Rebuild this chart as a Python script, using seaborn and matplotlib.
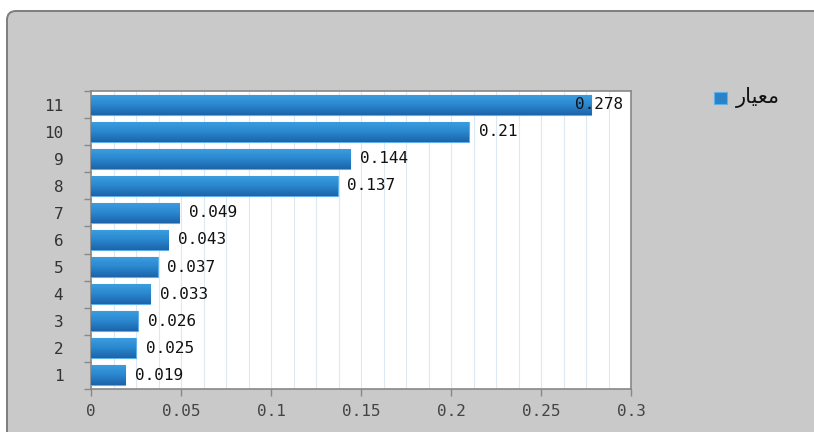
import numpy as np
import pandas as pd
import matplotlib
matplotlib.use("Agg")
import matplotlib.pyplot as plt
import seaborn as sns
from matplotlib.patches import FancyBboxPatch
from matplotlib.transforms import IdentityTransform
from matplotlib.ticker import MultipleLocator, FixedLocator

categories = ["11", "10", "9", "8", "7", "6", "5", "4", "3", "2", "1"]
values = [0.278, 0.21, 0.144, 0.137, 0.049, 0.043, 0.037, 0.033, 0.026, 0.025, 0.019]
value_labels = ["0.278", "0.21", "0.144", "0.137", "0.049", "0.043", "0.037", "0.033", "0.026", "0.025", "0.019"]
x_ticks = [0, 0.05, 0.1, 0.15, 0.2, 0.25, 0.3]
x_tick_labels = ["0", "0.05", "0.1", "0.15", "0.2", "0.25", "0.3"]
series_name = "معیار"
# visual (shaped, right-to-left) form of the series name for rendering
series_display = "\uFEAD\uFE8E\uFBFF\uFECC\uFEE3"

sns.set_theme(style="white")
plt.rcParams["font.family"] = ["DejaVu Sans Mono", "DejaVu Sans"]

W, H = 814, 432
fig = plt.figure(figsize=(W / 100, H / 100), dpi=100)
fig.patch.set_facecolor("white")

# background panel (rounded, in pixel coordinates)
bg = FancyBboxPatch((7, -30), W + 40, (H - 11) + 30,
                    boxstyle="round,pad=0,rounding_size=9",
                    transform=IdentityTransform(), facecolor="#c9c9c9",
                    edgecolor="#7d7d7d", linewidth=1.4, zorder=-10)
fig.patches.append(bg)

ax = fig.add_axes([91 / W, 1 - 389 / H, (631 - 91) / W, (389 - 91) / H])
ax.set_facecolor("white")

df = pd.DataFrame({"category": categories, "value": values})
sns.barplot(data=df, x="value", y="category", order=categories, orient="h",
            color="#2a82c9", width=0.74, ax=ax, zorder=3, edgecolor="#5fb0e8",
            linewidth=0.8)

# vertical gradient on each bar
grad = np.linspace(0, 1, 64).reshape(-1, 1)
cmap = matplotlib.colors.LinearSegmentedColormap.from_list(
    "bar", ["#3d9fe0", "#2a88cf", "#1c64aa"])
for p in list(ax.patches):
    x0, y0 = p.get_x(), p.get_y()
    w, h = p.get_width(), p.get_height()
    im = ax.imshow(grad, extent=[x0, x0 + w, y0 + h, y0], aspect="auto",
                   cmap=cmap, zorder=3.5, origin="upper")
    im.set_clip_path(p)

ax.set_xlim(0, 0.3)
ax.set_ylim(len(categories) - 0.5, -0.5)

# value labels
for i, (v, lab) in enumerate(zip(values, value_labels)):
    if v + 0.04 > 0.3:
        ax.text(0.2955, i, lab, ha="right", va="center", fontsize=11.5,
                color="#111111", zorder=5)
    else:
        ax.text(v + 0.0055, i, lab, ha="left", va="center", fontsize=11.5,
                color="#111111", zorder=5)

# grid
ax.xaxis.set_minor_locator(MultipleLocator(0.0125))
ax.grid(which="minor", axis="x", color="#dce8f2", linewidth=0.8, zorder=1)
ax.grid(which="major", axis="x", color="#dce8f2", linewidth=0.8, zorder=1)
ax.set_axisbelow(True)

ax.set_xticks(x_ticks)
ax.set_xticklabels(x_tick_labels)
ax.yaxis.set_minor_locator(FixedLocator(np.arange(-0.5, len(categories), 1.0)))
ax.tick_params(axis="x", which="major", length=5, width=1, color="#888888",
               labelsize=11.5, labelcolor="#444444", pad=6, bottom=True)
ax.tick_params(axis="x", which="minor", length=0)
ax.tick_params(axis="y", which="major", length=0, labelsize=11.5,
               labelcolor="#333333", pad=20)
ax.tick_params(axis="y", which="minor", length=5, width=1, color="#888888",
               left=True)
ax.set_xlabel("")
ax.set_ylabel("")
for s in ax.spines.values():
    s.set_visible(True)
    s.set_color("#888888")
    s.set_linewidth(1.2)

# legend
fig.patches.append(matplotlib.patches.Rectangle(
    (714 / W, 1 - 104 / H), 13 / W, 12 / H, transform=fig.transFigure,
    facecolor="#2a82c9", edgecolor="#5fb0e8", linewidth=0.8, zorder=5))
fig.text(736 / W, 1 - 97 / H, series_display, ha="left", va="center",
         fontsize=15, color="#111111", family=["DejaVu Sans"])

fig.savefig("out.png", dpi=100, facecolor=fig.get_facecolor())
